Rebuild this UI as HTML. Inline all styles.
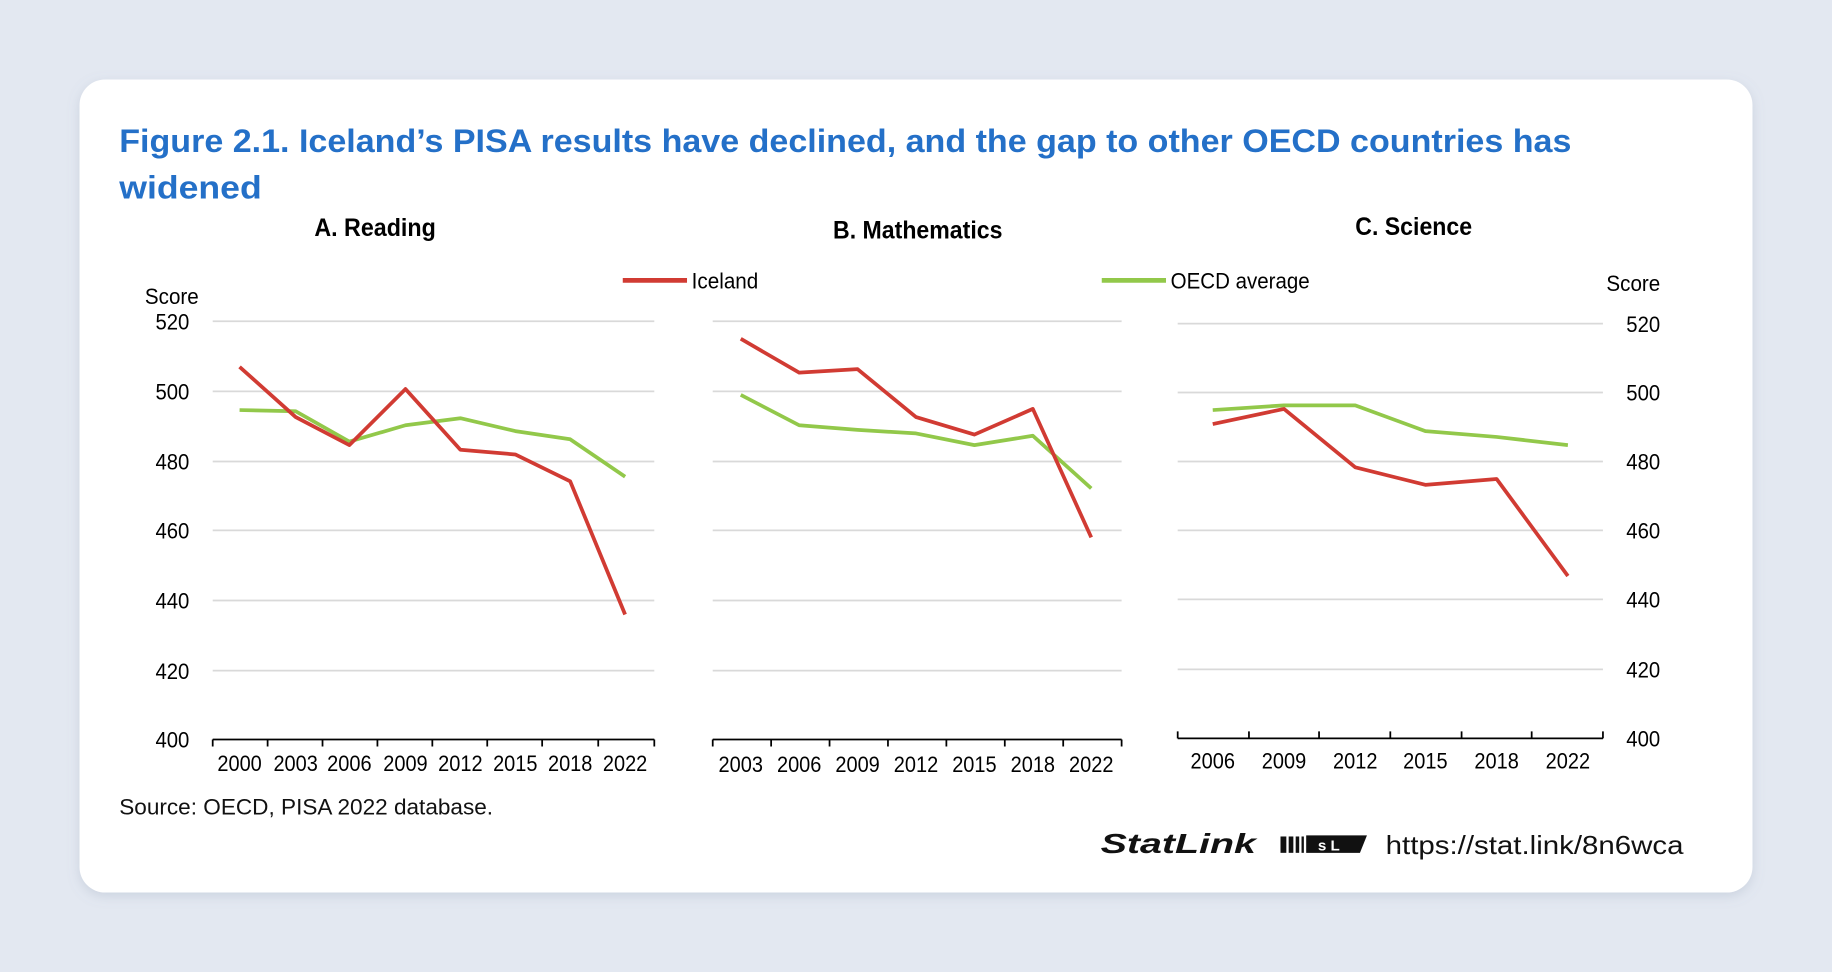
<!DOCTYPE html>
<html><head><meta charset="utf-8"><style>
html,body{margin:0;padding:0;background:#e3e8f1;}
svg{display:block}
</style></head><body>
<svg width="1832" height="972" viewBox="0 0 1568 832" xmlns="http://www.w3.org/2000/svg">
<defs><filter id="sh" x="-5%" y="-5%" width="110%" height="115%"><feDropShadow dx="0" dy="3" stdDeviation="5" flood-color="#8090a8" flood-opacity="0.25"/></filter></defs>
<rect width="1568" height="832" fill="#e3e8f1"/>
<rect x="68" y="68" width="1432" height="696" rx="22" fill="#fff" filter="url(#sh)"/>
<g font-family="Liberation Sans, sans-serif" font-weight="bold" font-size="28" fill="#2470c8">
<text x="102" y="130" textLength="1243" lengthAdjust="spacingAndGlyphs">Figure 2.1. Iceland’s PISA results have declined, and the gap to other OECD countries has</text>
<text x="102" y="170" textLength="122" lengthAdjust="spacingAndGlyphs">widened</text>
</g>
<g font-family="Liberation Sans, sans-serif" fill="#000" lengthAdjust="spacingAndGlyphs">
<g font-size="21" font-weight="bold">
<text x="269" y="202" textLength="104" lengthAdjust="spacingAndGlyphs">A. Reading</text>
<text x="713" y="204" textLength="145" lengthAdjust="spacingAndGlyphs">B. Mathematics</text>
<text x="1160" y="201" textLength="100" lengthAdjust="spacingAndGlyphs">C. Science</text>
</g>
<g font-size="19">
<text x="124" y="260" textLength="46" lengthAdjust="spacingAndGlyphs">Score</text>
<text x="1375" y="249" textLength="46" lengthAdjust="spacingAndGlyphs">Score</text>
<text x="592" y="247" textLength="57" lengthAdjust="spacingAndGlyphs">Iceland</text>
<text x="1002" y="247" textLength="119" lengthAdjust="spacingAndGlyphs">OECD average</text>
</g>
<line x1="533" y1="240" x2="588" y2="240" stroke="#d13b33" stroke-width="4"/>
<line x1="943" y1="240" x2="998" y2="240" stroke="#92c84a" stroke-width="4"/>
<g stroke="#d9d9d9" stroke-width="1.5">
<line x1="182" x2="560" y1="275" y2="275"/><line x1="182" x2="560" y1="335" y2="335"/><line x1="182" x2="560" y1="395" y2="395"/><line x1="182" x2="560" y1="454" y2="454"/><line x1="182" x2="560" y1="514" y2="514"/><line x1="182" x2="560" y1="574" y2="574"/>
<line x1="610" x2="960" y1="275" y2="275"/><line x1="610" x2="960" y1="335" y2="335"/><line x1="610" x2="960" y1="395" y2="395"/><line x1="610" x2="960" y1="454" y2="454"/><line x1="610" x2="960" y1="514" y2="514"/><line x1="610" x2="960" y1="574" y2="574"/>
<line x1="1008" x2="1372" y1="277" y2="277"/><line x1="1008" x2="1372" y1="336" y2="336"/><line x1="1008" x2="1372" y1="395" y2="395"/><line x1="1008" x2="1372" y1="454" y2="454"/><line x1="1008" x2="1372" y1="513" y2="513"/><line x1="1008" x2="1372" y1="573" y2="573"/>
</g>
<g stroke="#000" stroke-width="1.5" fill="none">
<path d="M182 633H560M182 633v6M229 633v6M276 633v6M323 633v6M370 633v6M417 633v6M464 633v6M512 633v6M560 633v6"/>
<path d="M610 633H960M610 633v6M660 633v6M710 633v6M760 633v6M810 633v6M860 633v6M910 633v6M960 633v6"/>
<path d="M1008 632H1372M1008 632v-6M1069 632v-6M1129 632v-6M1190 632v-6M1251 632v-6M1311 632v-6M1372 632v-6"/>
</g>
<g font-size="19">
<g text-anchor="end"><text x="162" y="282" textLength="29" lengthAdjust="spacingAndGlyphs">520</text><text x="162" y="342" textLength="29" lengthAdjust="spacingAndGlyphs">500</text><text x="162" y="402" textLength="29" lengthAdjust="spacingAndGlyphs">480</text><text x="162" y="461" textLength="29" lengthAdjust="spacingAndGlyphs">460</text><text x="162" y="521" textLength="29" lengthAdjust="spacingAndGlyphs">440</text><text x="162" y="581" textLength="29" lengthAdjust="spacingAndGlyphs">420</text><text x="162" y="640" textLength="29" lengthAdjust="spacingAndGlyphs">400</text></g>
<g><text x="1392" y="284" textLength="29" lengthAdjust="spacingAndGlyphs">520</text><text x="1392" y="343" textLength="29" lengthAdjust="spacingAndGlyphs">500</text><text x="1392" y="402" textLength="29" lengthAdjust="spacingAndGlyphs">480</text><text x="1392" y="461" textLength="29" lengthAdjust="spacingAndGlyphs">460</text><text x="1392" y="520" textLength="29" lengthAdjust="spacingAndGlyphs">440</text><text x="1392" y="580" textLength="29" lengthAdjust="spacingAndGlyphs">420</text><text x="1392" y="639" textLength="29" lengthAdjust="spacingAndGlyphs">400</text></g>
<g text-anchor="middle">
<text x="205" y="660" textLength="38" lengthAdjust="spacingAndGlyphs">2000</text><text x="253" y="660" textLength="38" lengthAdjust="spacingAndGlyphs">2003</text><text x="299" y="660" textLength="38" lengthAdjust="spacingAndGlyphs">2006</text><text x="347" y="660" textLength="38" lengthAdjust="spacingAndGlyphs">2009</text><text x="394" y="660" textLength="38" lengthAdjust="spacingAndGlyphs">2012</text><text x="441" y="660" textLength="38" lengthAdjust="spacingAndGlyphs">2015</text><text x="488" y="660" textLength="38" lengthAdjust="spacingAndGlyphs">2018</text><text x="535" y="660" textLength="38" lengthAdjust="spacingAndGlyphs">2022</text>
<text x="634" y="661" textLength="38" lengthAdjust="spacingAndGlyphs">2003</text><text x="684" y="661" textLength="38" lengthAdjust="spacingAndGlyphs">2006</text><text x="734" y="661" textLength="38" lengthAdjust="spacingAndGlyphs">2009</text><text x="784" y="661" textLength="38" lengthAdjust="spacingAndGlyphs">2012</text><text x="834" y="661" textLength="38" lengthAdjust="spacingAndGlyphs">2015</text><text x="884" y="661" textLength="38" lengthAdjust="spacingAndGlyphs">2018</text><text x="934" y="661" textLength="38" lengthAdjust="spacingAndGlyphs">2022</text>
<text x="1038" y="658" textLength="38" lengthAdjust="spacingAndGlyphs">2006</text><text x="1099" y="658" textLength="38" lengthAdjust="spacingAndGlyphs">2009</text><text x="1160" y="658" textLength="38" lengthAdjust="spacingAndGlyphs">2012</text><text x="1220" y="658" textLength="38" lengthAdjust="spacingAndGlyphs">2015</text><text x="1281" y="658" textLength="38" lengthAdjust="spacingAndGlyphs">2018</text><text x="1342" y="658" textLength="38" lengthAdjust="spacingAndGlyphs">2022</text>
</g></g>
</g>
<g fill="none" stroke-width="3.2" stroke-linejoin="round">
<polyline stroke="#92c84a" points="205,351 253,352 299,378 347,364 394,358 441,369 488,376 535,408"/>
<polyline stroke="#d13b33" points="205,314 253,357 299,381 347,333 394,385 441,389 488,412 535,526"/>
<polyline stroke="#92c84a" points="634,338 684,364 734,368 784,371 834,381 884,373 934,418"/>
<polyline stroke="#d13b33" points="634,290 684,319 734,316 784,357 834,372 884,350 934,460"/>
<polyline stroke="#92c84a" points="1038,351 1099,347 1160,347 1220,369 1281,374 1342,381"/>
<polyline stroke="#d13b33" points="1038,363 1099,350 1160,400 1220,415 1281,410 1342,493"/>
</g>
<text x="102" y="697" font-family="Liberation Sans, sans-serif" font-size="19" fill="#111" textLength="320" lengthAdjust="spacingAndGlyphs">Source: OECD, PISA 2022 database.</text>
<text x="942" y="730" font-family="Liberation Sans, sans-serif" font-size="24" font-weight="bold" font-style="italic" fill="#111" textLength="133" lengthAdjust="spacingAndGlyphs">StatLink</text>
<g fill="#111"><rect x="1096" y="716" width="5" height="14"/><rect x="1103" y="716" width="4" height="14"/><rect x="1109" y="716" width="3" height="14"/><rect x="1114" y="716" width="2" height="14"/><path d="M1118 715h52l-6 15h-46z"/></g>
<text x="1128" y="728" font-family="Liberation Sans, sans-serif" font-size="13" font-weight="bold" fill="#fff">s L</text>
<text x="1186" y="731" font-family="Liberation Sans, sans-serif" font-size="22" fill="#111" textLength="255" lengthAdjust="spacingAndGlyphs">https://stat.link/8n6wca</text>
</svg>
</body></html>
